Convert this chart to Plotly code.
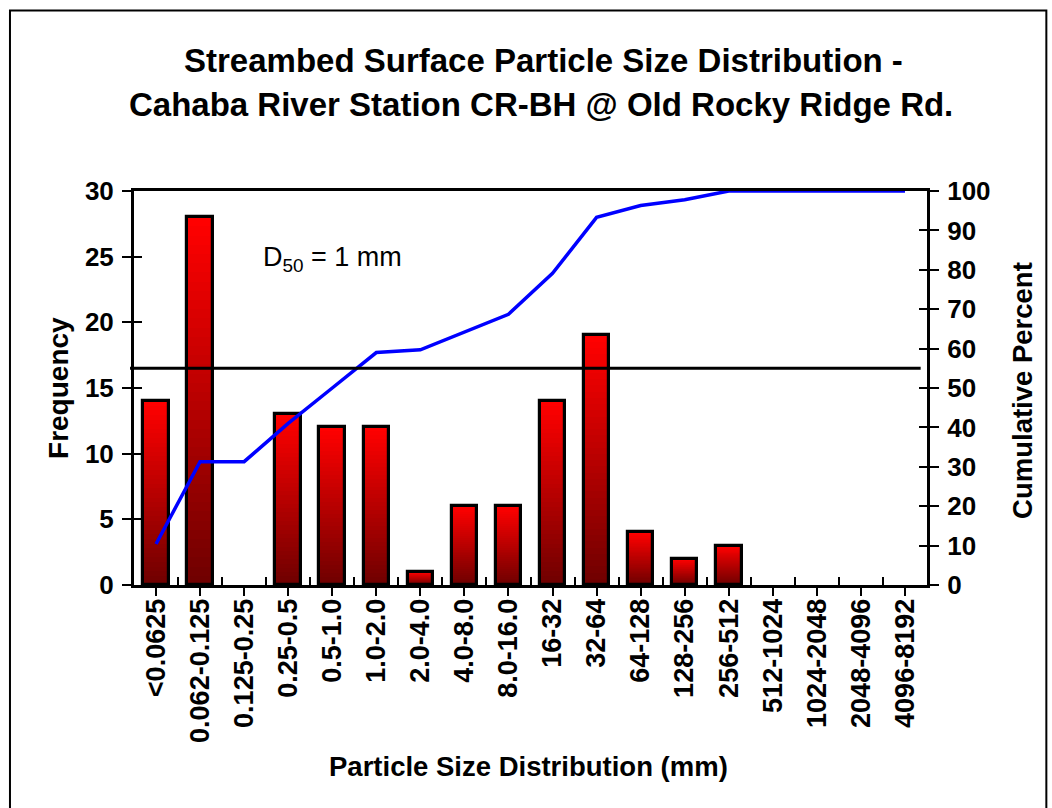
import plotly.graph_objects as go

# ---------------- data ----------------
categories = ["<0.0625", "0.062-0.125", "0.125-0.25", "0.25-0.5", "0.5-1.0", "1.0-2.0",
              "2.0-4.0", "4.0-8.0", "8.0-16.0", "16-32", "32-64", "64-128", "128-256",
              "256-512", "512-1024", "1024-2048", "2048-4096", "4096-8192"]
frequency = [14, 28, 0, 13, 12, 12, 1, 6, 6, 14, 19, 4, 2, 3, 0, 0, 0, 0]
cumulative_pct = [10.4, 31.3, 31.3, 41.0, 50.0, 59.0, 59.7, 64.2, 68.7, 79.1, 93.3,
                  96.3, 97.8, 100, 100, 100, 100, 100]
ref_line_pct = 55
freq_ticks = [0, 5, 10, 15, 20, 25, 30]
pct_ticks = [0, 10, 20, 30, 40, 50, 60, 70, 80, 90, 100]

FONT = "Liberation Sans, Arial, Helvetica, sans-serif"
BAR_W = 0.58

fig = go.Figure()

# gradient-filled bars: overlaid bars of decreasing height, bright red at top -> dark red at bottom
N = 40
top_rgb = (255, 0, 0)
bot_rgb = (108, 0, 0)
for k in range(N):
    f = (N - k) / N
    r = int(round(bot_rgb[0] + (top_rgb[0] - bot_rgb[0]) * f))
    fig.add_trace(go.Bar(
        x=categories, y=[v * f for v in frequency], width=BAR_W,
        marker=dict(color=f"rgb({r},0,0)", line=dict(width=0)),
        showlegend=False, hoverinfo="skip"))

# bar outlines
fig.add_trace(go.Bar(
    x=categories, y=[v if v > 0 else None for v in frequency], width=BAR_W,
    marker=dict(color="rgba(0,0,0,0)", line=dict(color="black", width=3.2)),
    showlegend=False, hoverinfo="skip"))

# cumulative percent line
fig.add_trace(go.Scatter(
    x=categories, y=cumulative_pct, yaxis="y2", mode="lines",
    line=dict(color="#0000FF", width=3.5), showlegend=False))

# helper (invisible) traces so the extra tick axes are drawn
fig.add_trace(go.Scatter(x=categories, y=[None] * len(categories), xaxis="x2", yaxis="y3",
                         mode="lines", showlegend=False, hoverinfo="skip"))
fig.add_trace(go.Scatter(x=categories, y=[None] * len(categories), yaxis="y4",
                         mode="lines", showlegend=False, hoverinfo="skip"))

xr = [-0.5, len(categories) - 0.5]
common_y = dict(showgrid=False, zeroline=False, tickcolor="black", tickwidth=2)

fig.update_layout(
    width=1052, height=808,
    margin=dict(l=134, r=125, t=191, b=223, pad=0),
    barmode="overlay", bargap=0,
    plot_bgcolor="white", paper_bgcolor="white",
    showlegend=False,
    font=dict(family=FONT, color="black"),
    xaxis=dict(type="category", categoryorder="array", categoryarray=categories,
               range=xr, showline=True, linewidth=3, linecolor="black", mirror=True,
               ticks="outside", ticklen=8, tickwidth=2, tickcolor="black",
               tickangle=-90, tickfont=dict(size=27, family=FONT, weight="bold"),
               ticklabelstandoff=-8,
               showgrid=False, zeroline=False),
    xaxis2=dict(type="category", categoryorder="array", categoryarray=categories,
                range=xr, overlaying="x", anchor="y", side="bottom",
                ticks="inside", tickson="boundaries", ticklen=8, tickwidth=2,
                tickcolor="black", showticklabels=False, showline=False,
                showgrid=False, zeroline=False),
    yaxis=dict(range=[0, 30], tickvals=freq_ticks, ticks="outside", ticklen=9,
               showline=True, linewidth=3, linecolor="black",
               tickfont=dict(size=26, family=FONT, weight="bold"),
               ticklabelstandoff=3, **common_y),
    yaxis3=dict(range=[0, 30], tickvals=freq_ticks, overlaying="y", anchor="x",
                ticks="inside", ticklen=8, showticklabels=False, showline=False,
                **common_y),
    yaxis2=dict(range=[0, 100], tickvals=pct_ticks, overlaying="y", side="right",
                anchor="x", ticks="outside", ticklen=9,
                showline=True, linewidth=3, linecolor="black",
                tickfont=dict(size=26, family=FONT, weight="bold"),
                ticklabelstandoff=3, **common_y),
    yaxis4=dict(range=[0, 100], tickvals=pct_ticks, overlaying="y", side="right",
                anchor="x", ticks="inside", ticklen=8, showticklabels=False,
                showline=False, **common_y),
)

# reference horizontal line
fig.add_shape(type="line", xref="paper", yref="y2", x0=-0.005, x1=0.992,
              y0=ref_line_pct, y1=ref_line_pct, line=dict(color="black", width=3),
              layer="above")

# outer frame
fig.add_shape(type="rect", xref="paper", yref="paper", x0=-0.1564, x1=1.1505,
              y0=-0.65, y1=1.4583, line=dict(color="black", width=2),
              fillcolor="rgba(0,0,0,0)", layer="above")

ann = []
ann.append(dict(text="<b>Streambed Surface Particle Size Distribution -</b>",
                xref="paper", yref="paper", x=0.516, y=1.3315, xanchor="center",
                yanchor="middle", showarrow=False, font=dict(size=33, family=FONT)))
ann.append(dict(text="<b>Cahaba River Station CR-BH @ Old Rocky Ridge Rd.</b>",
                xref="paper", yref="paper", x=0.5134, y=1.2199, xanchor="center",
                yanchor="middle", showarrow=False, font=dict(size=33, family=FONT)))
ann.append(dict(text="<b>Frequency</b>", xref="paper", yref="paper", x=-0.0959, y=0.5,
                xanchor="center", yanchor="middle", textangle=-90, showarrow=False,
                font=dict(size=28, family=FONT)))
ann.append(dict(text="<b>Cumulative Percent</b>", xref="paper", yref="paper", x=1.121,
                y=0.495, xanchor="center", yanchor="middle", textangle=-90,
                showarrow=False, font=dict(size=27.5, family=FONT)))
ann.append(dict(text="<b>Particle Size Distribution (mm)</b>", xref="paper", yref="paper",
                x=0.498, y=-0.4616, xanchor="center", yanchor="middle", showarrow=False,
                font=dict(size=27.5, family=FONT)))
ann.append(dict(text="D<sub>50</sub> = 1 mm", xref="x", yref="y", x="0.5-1.0", y=24.8,
                xanchor="center", yanchor="middle", showarrow=False,
                font=dict(size=27, family=FONT)))
fig.update_layout(annotations=ann)

fig.write_html("out.html", config={"displayModeBar": False},
               post_script="document.body.style.margin='0';")
